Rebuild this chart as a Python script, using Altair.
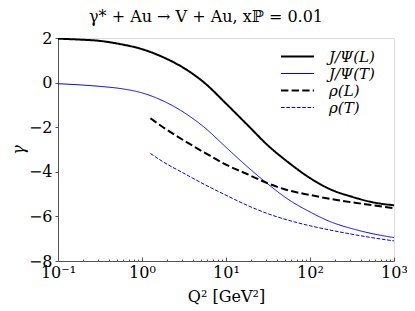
import altair as alt
import pandas as pd

# Q^2 grid (GeV^2)
q2_full = [0.1, 0.178, 0.316, 0.562, 1.0, 1.78, 3.16, 5.62, 10.0, 17.8, 31.6,
           56.2, 100.0, 178.0, 316.0, 562.0, 1000.0]
q2_rho = [1.26, 1.78, 3.16, 5.62, 10.0, 17.8, 31.6, 56.2, 100.0, 178.0, 316.0,
          562.0, 1000.0]

jpsi_L = [1.97, 1.93, 1.87, 1.72, 1.50, 1.14, 0.65, -0.03, -0.94, -1.88, -2.82,
          -3.60, -4.28, -4.80, -5.12, -5.37, -5.50]
jpsi_T = [-0.05, -0.10, -0.17, -0.27, -0.46, -0.82, -1.34, -2.03, -2.90, -3.76,
          -4.55, -5.26, -5.80, -6.25, -6.55, -6.78, -6.95]
rho_L = [-1.60, -2.00, -2.60, -3.15, -3.68, -4.10, -4.52, -4.84, -5.04, -5.22,
         -5.37, -5.50, -5.63]
rho_T = [-3.18, -3.55, -4.07, -4.58, -5.05, -5.50, -5.88, -6.18, -6.42, -6.62,
         -6.80, -6.96, -7.10]

series = ["J/Ψ(L)", "J/Ψ(T)", "ρ(L)", "ρ(T)"]
colors = ["black", "blue", "black", "blue"]
widths = [2, 1, 2, 1]
dashes = [[1, 0], [1, 0], [7.4, 3.2], [3.7, 1.6]]

x_major = [0.1, 1, 10, 100, 1000]
x_minor = [m * d for d in [0.1, 1, 10, 100] for m in range(2, 10)]
y_ticks = [-8, -6, -4, -2, 0, 2]

rows = []
for name, xs, ys in [(series[0], q2_full, jpsi_L), (series[1], q2_full, jpsi_T),
                     (series[2], q2_rho, rho_L), (series[3], q2_rho, rho_T)]:
    for xv, yv in zip(xs, ys):
        rows.append({"series": name, "Q2": xv, "gamma": yv})
df = pd.DataFrame(rows)

major_df = pd.DataFrame({"Q2": x_major})
minor_df = pd.DataFrame({"Q2": x_minor})

W, H = 336, 223
FONT = "DejaVu Serif"
xscale = alt.Scale(type="log", domain=[0.1, 1000], nice=False)
yscale = alt.Scale(domain=[-8, 2], nice=False)

label_expr = ("datum.value == 0.1 ? '10⁻¹' : datum.value == 1 ? '10⁰' : "
              "datum.value == 10 ? '10¹' : datum.value == 100 ? '10²' : '10³'")

lines = alt.Chart(df).mark_line(interpolate="monotone", clip=True).encode(
    x=alt.X("Q2:Q", scale=xscale,
            axis=alt.Axis(values=x_major, labelExpr=label_expr, ticks=False,
                          tickSize=0, labelPadding=3, grid=False,
                          labelFont=FONT, labelFontSize=16, labelColor="black",
                          labelFlush=False, labelOverlap=False,
                          domainColor="#555", title="Q² [GeV²]",
                          titleFont=FONT, titleFontSize=16, titleFontWeight="normal",
                          titleColor="black", titleY=35, titleBaseline="middle")),
    y=alt.Y("gamma:Q", scale=yscale,
            axis=alt.Axis(values=y_ticks, grid=False, tickSize=3, tickColor="#555",
                          domainColor="#555", labelPadding=3,
                          labelExpr="replace(format(datum.value, 'd'), '-', '−')",
                          labelFont=FONT, labelFontSize=16, labelColor="black",
                          labelFlush=False, labelOverlap=False,
                          title="γ", titleFont=FONT, titleFontSize=16,
                          titleFontStyle="italic", titleFontWeight="normal",
                          titleColor="black", titleX=-40, titleY=H / 2,
                          titleAngle=270, titleBaseline="middle", titleAlign="center")),
    color=alt.Color("series:N", scale=alt.Scale(domain=series, range=colors),
                    legend=alt.Legend(title=None, orient="none", legendX=232, legendY=11,
                                      symbolType="M-3,0H3", symbolSize=121,
                                      labelFont=FONT, labelFontSize=15,
                                      labelFontStyle="italic", labelOffset=24,
                                      rowPadding=1, labelColor="black")),
    strokeDash=alt.StrokeDash("series:N", scale=alt.Scale(domain=series, range=dashes)),
    strokeWidth=alt.StrokeWidth("series:N",
                                scale=alt.Scale(type="ordinal", domain=series, range=widths)),
)

major_ticks = alt.Chart(major_df).mark_point(opacity=0).encode(
    x=alt.X("Q2:Q", scale=xscale,
            axis=alt.Axis(values=x_major, orient="top", offset=-H, labels=False,
                          domain=False, tickSize=4, tickColor="#555", grid=False,
                          title=None)),
    y=alt.value(0),
)
minor_ticks = alt.Chart(minor_df).mark_point(opacity=0).encode(
    x=alt.X("Q2:Q", scale=xscale,
            axis=alt.Axis(values=x_minor, orient="top", offset=-H, labels=False,
                          domain=False, tickSize=2, tickColor="#555", grid=False,
                          title=None)),
    y=alt.value(0),
)

chart = alt.layer(lines, major_ticks, minor_ticks).resolve_axis(
    x="independent"
).properties(
    width=W, height=H,
    autosize=alt.AutoSizeParams(type="none"),
    padding={"left": 50, "top": 30, "right": 13, "bottom": 52},
    title=alt.Title("γ* + Au → V + Au, xℙ = 0.01", font=FONT, fontSize=16,
                    fontWeight="normal", color="black", dx=-20, offset=5),
).configure_view(stroke="#555", strokeWidth=1).configure(background="white")

chart.save("out.html", embed_options={"renderer": "svg", "actions": False})
